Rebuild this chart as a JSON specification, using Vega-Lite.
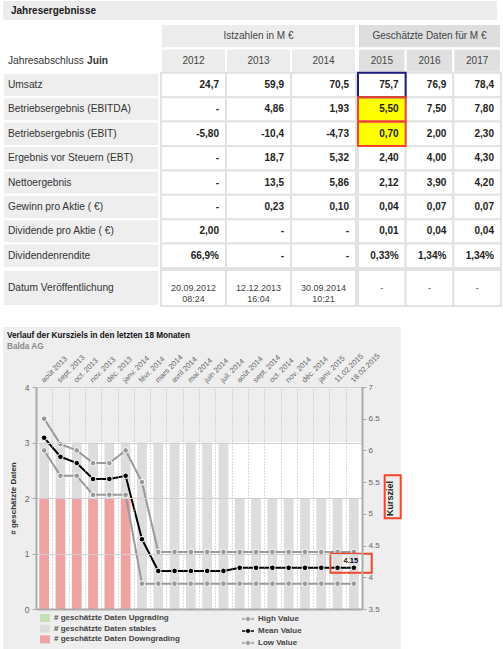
{
  "$schema": "https://vega.github.io/schema/vega-lite/v6.json",
  "padding": {"left": 0, "top": 1, "right": 0, "bottom": 0},
  "background": "#ffffff",
  "config": {"font": "Liberation Sans", "view": {"stroke": null}},
  "datasets": {
    "tab": [
      {"r": "Umsatz", "2012": "24,7", "2013": "59,9", "2014": "70,5", "2015": "75,7", "2016": "76,9", "2017": "78,4"},
      {"r": "Betriebsergebnis (EBITDA)", "2012": "-", "2013": "4,86", "2014": "1,93", "2015": "5,50", "2016": "7,50", "2017": "7,80"},
      {"r": "Betriebsergebnis (EBIT)", "2012": "-5,80", "2013": "-10,4", "2014": "-4,73", "2015": "0,70", "2016": "2,00", "2017": "2,30"},
      {"r": "Ergebnis vor Steuern (EBT)", "2012": "-", "2013": "18,7", "2014": "5,32", "2015": "2,40", "2016": "4,00", "2017": "4,30"},
      {"r": "Nettoergebnis", "2012": "-", "2013": "13,5", "2014": "5,86", "2015": "2,12", "2016": "3,90", "2017": "4,20"},
      {"r": "Gewinn pro Aktie ( €)", "2012": "-", "2013": "0,23", "2014": "0,10", "2015": "0,04", "2016": "0,07", "2017": "0,07"},
      {"r": "Dividende pro Aktie ( €)", "2012": "2,00", "2013": "-", "2014": "-", "2015": "0,01", "2016": "0,04", "2017": "0,04"},
      {"r": "Dividendenrendite", "2012": "66,9%", "2013": "-", "2014": "-", "2015": "0,33%", "2016": "1,34%", "2017": "1,34%"},
      {"r": "Datum Veröffentlichung", "2012": "20.09.2012\n08:24", "2013": "12.12.2013\n16:04", "2014": "30.09.2014\n10:21", "2015": "-", "2016": "-", "2017": "-"}
    ],
    "bars": [
      {"m": "août 2013", "Downgrading": 2, "stables": 1},
      {"m": "sept. 2013", "Downgrading": 2, "stables": 1},
      {"m": "oct. 2013", "Downgrading": 2, "stables": 1},
      {"m": "nov. 2013", "Downgrading": 2, "stables": 1},
      {"m": "déc. 2013", "Downgrading": 2, "stables": 1},
      {"m": "janv. 2014", "Downgrading": 2, "stables": 1},
      {"m": "févr. 2014", "Downgrading": 0, "stables": 3},
      {"m": "mars 2014", "Downgrading": 0, "stables": 3},
      {"m": "avril 2014", "Downgrading": 0, "stables": 3},
      {"m": "mai 2014", "Downgrading": 0, "stables": 3},
      {"m": "juin 2014", "Downgrading": 0, "stables": 3},
      {"m": "juil. 2014", "Downgrading": 0, "stables": 3},
      {"m": "août 2014", "Downgrading": 0, "stables": 2},
      {"m": "sept. 2014", "Downgrading": 0, "stables": 2},
      {"m": "oct. 2014", "Downgrading": 0, "stables": 2},
      {"m": "nov. 2014", "Downgrading": 0, "stables": 2},
      {"m": "déc. 2014", "Downgrading": 0, "stables": 2},
      {"m": "janv. 2015", "Downgrading": 0, "stables": 2},
      {"m": "11.02.2015", "Downgrading": 0, "stables": 2},
      {"m": "18.02.2015", "Downgrading": 0, "stables": 2}
    ],
    "kz": [
      {"m": "août 2013", "High Value": 6.5, "Mean Value": 6.2, "Low Value": 6.0},
      {"m": "sept. 2013", "High Value": 6.1, "Mean Value": 5.9, "Low Value": 5.6},
      {"m": "oct. 2013", "High Value": 6.0, "Mean Value": 5.8, "Low Value": 5.6},
      {"m": "nov. 2013", "High Value": 5.8, "Mean Value": 5.55, "Low Value": 5.3},
      {"m": "déc. 2013", "High Value": 5.8, "Mean Value": 5.55, "Low Value": 5.3},
      {"m": "janv. 2014", "High Value": 6.0, "Mean Value": 5.6, "Low Value": 5.3},
      {"m": "févr. 2014", "High Value": 5.5, "Mean Value": 4.6, "Low Value": 3.9},
      {"m": "mars 2014", "High Value": 4.4, "Mean Value": 4.1, "Low Value": 3.9},
      {"m": "avril 2014", "High Value": 4.4, "Mean Value": 4.1, "Low Value": 3.9},
      {"m": "mai 2014", "High Value": 4.4, "Mean Value": 4.1, "Low Value": 3.9},
      {"m": "juin 2014", "High Value": 4.4, "Mean Value": 4.1, "Low Value": 3.9},
      {"m": "juil. 2014", "High Value": 4.4, "Mean Value": 4.1, "Low Value": 3.9},
      {"m": "août 2014", "High Value": 4.4, "Mean Value": 4.15, "Low Value": 3.9},
      {"m": "sept. 2014", "High Value": 4.4, "Mean Value": 4.15, "Low Value": 3.9},
      {"m": "oct. 2014", "High Value": 4.4, "Mean Value": 4.15, "Low Value": 3.9},
      {"m": "nov. 2014", "High Value": 4.4, "Mean Value": 4.15, "Low Value": 3.9},
      {"m": "déc. 2014", "High Value": 4.4, "Mean Value": 4.15, "Low Value": 3.9},
      {"m": "janv. 2015", "High Value": 4.4, "Mean Value": 4.15, "Low Value": 3.9},
      {"m": "11.02.2015", "High Value": 4.4, "Mean Value": 4.15, "Low Value": 3.9},
      {"m": "18.02.2015", "High Value": 4.4, "Mean Value": 4.15, "Low Value": 3.9}
    ]
  },
  "spacing": 20,
  "vconcat": [
    {
      "spacing": 3,
      "vconcat": [
        {
          "width": 494,
          "height": 19,
          "view": {"fill": "#ececec"},
          "data": {"values": [{"t": "Jahresergebnisse"}]},
          "mark": {"type": "text", "align": "left", "baseline": "middle", "dx": 8, "fontSize": 10, "fontWeight": "bold", "color": "#1a1a1a"},
          "encoding": {
            "x": {"datum": 0, "type": "quantitative", "scale": {"domain": [0, 1]}, "axis": null},
            "text": {"field": "t"}
          }
        },
        {
          "spacing": 0,
          "vconcat": [
            {
              "spacing": 0,
              "hconcat": [
                {
                  "width": 156,
                  "height": 244,
                  "layer": [
                    {
                      "data": {"name": "tab"},
                      "transform": [{"filter": "datum.r != 'Datum Veröffentlichung'"}],
                      "mark": {"type": "rect", "fill": "#eeeeee", "stroke": "#ffffff", "strokeWidth": 2},
                      "encoding": {
                        "y": {"field": "r", "type": "nominal", "scale": {"type": "band", "domain": ["h1", "h2", "Umsatz", "Betriebsergebnis (EBITDA)", "Betriebsergebnis (EBIT)", "Ergebnis vor Steuern (EBT)", "Nettoergebnis", "Gewinn pro Aktie ( €)", "Dividende pro Aktie ( €)", "Dividendenrendite"], "paddingInner": 0, "paddingOuter": 0}, "axis": null}
                      }
                    },
                    {
                      "data": {"name": "tab"},
                      "transform": [{"filter": "datum.r != 'Datum Veröffentlichung'"}],
                      "mark": {"type": "text", "align": "left", "baseline": "middle", "dx": 5, "fontSize": 10.2, "color": "#333333"},
                      "encoding": {
                        "x": {"datum": 0, "type": "quantitative", "scale": {"domain": [0, 1]}, "axis": null},
                        "y": {"field": "r", "type": "nominal", "axis": null},
                        "text": {"field": "r"}
                      }
                    },
                    {
                      "data": {"values": [{"a": "Jahresabschluss", "b": "Juin"}]},
                      "mark": {"type": "text", "align": "left", "baseline": "middle", "dx": 5, "fontSize": 10.2, "color": "#333333"},
                      "encoding": {
                        "x": {"datum": 0, "type": "quantitative", "axis": null},
                        "y": {"datum": "h2", "type": "nominal", "axis": null},
                        "text": {"field": "a"}
                      }
                    },
                    {
                      "data": {"values": [{"a": "Jahresabschluss", "b": "Juin"}]},
                      "mark": {"type": "text", "align": "left", "baseline": "middle", "dx": 84, "fontSize": 10.2, "fontWeight": "bold", "color": "#333333"},
                      "encoding": {
                        "x": {"datum": 0, "type": "quantitative", "axis": null},
                        "y": {"datum": "h2", "type": "nominal", "axis": null},
                        "text": {"field": "b"}
                      }
                    }
                  ]
                },
                {
                  "width": 195,
                  "height": 244,
                  "layer": [
                    {
                      "data": {"values": [{"t": "Istzahlen in M €"}]},
                      "mark": {"type": "rect", "fill": "#ececec", "stroke": "#ffffff", "strokeWidth": 2},
                      "encoding": {
                        "y": {"datum": "h1", "type": "nominal", "scale": {"type": "band", "domain": ["h1", "h2", "Umsatz", "Betriebsergebnis (EBITDA)", "Betriebsergebnis (EBIT)", "Ergebnis vor Steuern (EBT)", "Nettoergebnis", "Gewinn pro Aktie ( €)", "Dividende pro Aktie ( €)", "Dividendenrendite"], "paddingInner": 0, "paddingOuter": 0}, "axis": null}
                      }
                    },
                    {
                      "data": {"values": [{"t": "Istzahlen in M €"}]},
                      "mark": {"type": "text", "baseline": "middle", "fontSize": 10, "color": "#444444"},
                      "encoding": {
                        "y": {"datum": "h1", "type": "nominal", "axis": null},
                        "text": {"field": "t"}
                      }
                    },
                    {
                      "data": {"name": "tab"},
                      "transform": [{"filter": "datum.r == 'Umsatz'"}, {"fold": ["2012", "2013", "2014"], "as": ["yr", "v"]}],
                      "mark": {"type": "rect", "fill": "#ececec", "stroke": "#ffffff", "strokeWidth": 2},
                      "encoding": {
                        "x": {"field": "yr", "type": "nominal", "scale": {"type": "band", "paddingInner": 0, "paddingOuter": 0}, "axis": null},
                        "y": {"datum": "h2", "type": "nominal", "axis": null}
                      }
                    },
                    {
                      "data": {"name": "tab"},
                      "transform": [{"filter": "datum.r == 'Umsatz'"}, {"fold": ["2012", "2013", "2014"], "as": ["yr", "v"]}],
                      "mark": {"type": "text", "baseline": "middle", "fontSize": 10, "color": "#444444"},
                      "encoding": {
                        "x": {"field": "yr", "type": "nominal", "bandPosition": 0.5, "axis": null},
                        "y": {"datum": "h2", "type": "nominal", "axis": null},
                        "text": {"field": "yr"}
                      }
                    },
                    {
                      "data": {"name": "tab"},
                      "transform": [{"filter": "datum.r != 'Datum Veröffentlichung'"}, {"fold": ["2012", "2013", "2014"], "as": ["yr", "v"]}],
                      "mark": {"type": "rect", "fill": "#ffffff", "stroke": "#e2e2e2", "strokeWidth": 2},
                      "encoding": {
                        "x": {"field": "yr", "type": "nominal", "axis": null},
                        "y": {"field": "r", "type": "nominal", "axis": null}
                      }
                    },
                    {
                      "data": {"name": "tab"},
                      "transform": [{"filter": "datum.r != 'Datum Veröffentlichung'"}, {"fold": ["2012", "2013", "2014"], "as": ["yr", "v"]}],
                      "mark": {"type": "text", "align": "right", "baseline": "middle", "dx": -7, "fontSize": 10, "fontWeight": "bold", "color": "#222222"},
                      "encoding": {
                        "x": {"field": "yr", "type": "nominal", "bandPosition": 1, "axis": null},
                        "y": {"field": "r", "type": "nominal", "axis": null},
                        "text": {"field": "v"}
                      }
                    }
                  ]
                },
                {
                  "width": 143,
                  "height": 244,
                  "layer": [
                    {
                      "data": {"values": [{"t": "Geschätzte Daten für M €"}]},
                      "mark": {"type": "rect", "fill": "#dedede", "stroke": "#ffffff", "strokeWidth": 2},
                      "encoding": {
                        "y": {"datum": "h1", "type": "nominal", "scale": {"type": "band", "domain": ["h1", "h2", "Umsatz", "Betriebsergebnis (EBITDA)", "Betriebsergebnis (EBIT)", "Ergebnis vor Steuern (EBT)", "Nettoergebnis", "Gewinn pro Aktie ( €)", "Dividende pro Aktie ( €)", "Dividendenrendite"], "paddingInner": 0, "paddingOuter": 0}, "axis": null}
                      }
                    },
                    {
                      "data": {"values": [{"t": "Geschätzte Daten für M €"}]},
                      "mark": {"type": "text", "baseline": "middle", "fontSize": 10, "color": "#444444"},
                      "encoding": {
                        "y": {"datum": "h1", "type": "nominal", "axis": null},
                        "text": {"field": "t"}
                      }
                    },
                    {
                      "data": {"name": "tab"},
                      "transform": [{"filter": "datum.r == 'Umsatz'"}, {"fold": ["2015", "2016", "2017"], "as": ["yr", "v"]}],
                      "mark": {"type": "rect", "fill": "#e0e0e0", "stroke": "#ffffff", "strokeWidth": 2},
                      "encoding": {
                        "x": {"field": "yr", "type": "nominal", "scale": {"type": "band", "paddingInner": 0, "paddingOuter": 0}, "axis": null},
                        "y": {"datum": "h2", "type": "nominal", "axis": null}
                      }
                    },
                    {
                      "data": {"name": "tab"},
                      "transform": [{"filter": "datum.r == 'Umsatz'"}, {"fold": ["2015", "2016", "2017"], "as": ["yr", "v"]}],
                      "mark": {"type": "text", "baseline": "middle", "fontSize": 10, "color": "#444444"},
                      "encoding": {
                        "x": {"field": "yr", "type": "nominal", "bandPosition": 0.5, "axis": null},
                        "y": {"datum": "h2", "type": "nominal", "axis": null},
                        "text": {"field": "yr"}
                      }
                    },
                    {
                      "data": {"name": "tab"},
                      "transform": [{"filter": "datum.r != 'Datum Veröffentlichung'"}, {"fold": ["2015", "2016", "2017"], "as": ["yr", "v"]}],
                      "mark": {"type": "rect", "stroke": "#e2e2e2", "strokeWidth": 2},
                      "encoding": {
                        "x": {"field": "yr", "type": "nominal", "axis": null},
                        "y": {"field": "r", "type": "nominal", "axis": null},
                        "fill": {"condition": {"test": "datum.yr == '2015' && (datum.r == 'Betriebsergebnis (EBITDA)' || datum.r == 'Betriebsergebnis (EBIT)')", "value": "#ffff00"}, "value": "#ffffff"}
                      }
                    },
                    {
                      "data": {"name": "tab"},
                      "transform": [{"filter": "datum.r == 'Umsatz' || datum.r == 'Betriebsergebnis (EBITDA)' || datum.r == 'Betriebsergebnis (EBIT)'"}, {"fold": ["2015"], "as": ["yr", "v"]}],
                      "mark": {"type": "rect", "fill": "transparent", "strokeWidth": 2},
                      "encoding": {
                        "x": {"field": "yr", "type": "nominal", "axis": null},
                        "y": {"field": "r", "type": "nominal", "axis": null},
                        "stroke": {"condition": {"test": "datum.r == 'Umsatz'", "value": "#1c1c80"}, "value": "#f2462a"}
                      }
                    },
                    {
                      "data": {"name": "tab"},
                      "transform": [{"filter": "datum.r != 'Datum Veröffentlichung'"}, {"fold": ["2015", "2016", "2017"], "as": ["yr", "v"]}],
                      "mark": {"type": "text", "align": "right", "baseline": "middle", "dx": -7, "fontSize": 10, "fontWeight": "bold", "color": "#222222"},
                      "encoding": {
                        "x": {"field": "yr", "type": "nominal", "bandPosition": 1, "axis": null},
                        "y": {"field": "r", "type": "nominal", "axis": null},
                        "text": {"field": "v"}
                      }
                    }
                  ]
                }
              ]
            },
            {
              "spacing": 0,
              "hconcat": [
                {
                  "width": 156,
                  "height": 36,
                  "data": {"name": "tab"},
                  "transform": [{"filter": "datum.r == 'Datum Veröffentlichung'"}],
                  "layer": [
                    {"mark": {"type": "rect", "fill": "#eeeeee", "stroke": "#ffffff", "strokeWidth": 2}, "encoding": {}},
                    {
                      "mark": {"type": "text", "align": "left", "baseline": "middle", "dx": 5, "fontSize": 10.2, "color": "#333333"},
                      "encoding": {
                        "x": {"datum": 0, "type": "quantitative", "scale": {"domain": [0, 1]}, "axis": null},
                        "text": {"field": "r"}
                      }
                    }
                  ]
                },
                {
                  "width": 195,
                  "height": 36,
                  "data": {"name": "tab"},
                  "transform": [{"filter": "datum.r == 'Datum Veröffentlichung'"}, {"fold": ["2012", "2013", "2014"], "as": ["yr", "v"]}],
                  "layer": [
                    {
                      "mark": {"type": "rect", "fill": "#ffffff", "stroke": "#e2e2e2", "strokeWidth": 2},
                      "encoding": {"x": {"field": "yr", "type": "nominal", "scale": {"type": "band", "paddingInner": 0, "paddingOuter": 0}, "axis": null}}
                    },
                    {
                      "mark": {"type": "text", "baseline": "middle", "fontSize": 9, "color": "#444444", "lineBreak": "\n", "lineHeight": 11},
                      "encoding": {
                        "x": {"field": "yr", "type": "nominal", "bandPosition": 0.5, "axis": null},
                        "text": {"field": "v"}
                      }
                    }
                  ]
                },
                {
                  "width": 143,
                  "height": 36,
                  "data": {"name": "tab"},
                  "transform": [{"filter": "datum.r == 'Datum Veröffentlichung'"}, {"fold": ["2015", "2016", "2017"], "as": ["yr", "v"]}],
                  "layer": [
                    {
                      "mark": {"type": "rect", "fill": "#ffffff", "stroke": "#e2e2e2", "strokeWidth": 2},
                      "encoding": {"x": {"field": "yr", "type": "nominal", "scale": {"type": "band", "paddingInner": 0, "paddingOuter": 0}, "axis": null}}
                    },
                    {
                      "mark": {"type": "text", "baseline": "middle", "fontSize": 9, "color": "#444444"},
                      "encoding": {
                        "x": {"field": "yr", "type": "nominal", "bandPosition": 0.5, "axis": null},
                        "text": {"field": "v"}
                      }
                    }
                  ]
                }
              ]
            }
          ]
        }
      ]
    },
    {
      "width": 398,
      "height": 322,
      "view": {"fill": "#eeeeee"},
      "title": {
        "text": "Verlauf der Kursziels in den letzten 18 Monaten",
        "subtitle": "Balda AG",
        "anchor": "start",
        "frame": "group",
        "dx": 4,
        "offset": -24,
        "fontSize": 8.2,
        "fontWeight": "bold",
        "color": "#111111",
        "subtitleFontSize": 8.2,
        "subtitleFontWeight": "bold",
        "subtitleColor": "#888888",
        "subtitlePadding": 3
      },
      "resolve": {"scale": {"x": "independent", "y": "independent"}},
      "layer": [
        {
          "layer": [
            {
              "data": {"name": "kz"},
              "mark": {"type": "rect", "fill": "#ffffff", "stroke": "#ffffff", "strokeWidth": 0.5},
              "encoding": {
                "x": {
                  "field": "m",
                  "type": "nominal",
                  "title": null,
                  "scale": {"type": "band", "domain": ["août 2013", "sept. 2013", "oct. 2013", "nov. 2013", "déc. 2013", "janv. 2014", "févr. 2014", "mars 2014", "avril 2014", "mai 2014", "juin 2014", "juil. 2014", "août 2014", "sept. 2014", "oct. 2014", "nov. 2014", "déc. 2014", "janv. 2015", "11.02.2015", "18.02.2015"], "range": [33, 359], "paddingInner": 0, "paddingOuter": 0},
                  "axis": {
                    "orient": "top",
                    "offset": -60,
                    "title": null,
                    "labelAngle": -45,
                    "labelAlign": "left",
                    "labelBaseline": "middle",
                    "labelFontSize": 7.5,
                    "labelColor": "#666666",
                    "labelPadding": 6,
                    "labelOffset": -2,
                    "labelOverlap": false,
                    "ticks": false,
                    "domain": false,
                    "grid": true,
                    "gridDash": [1, 2],
                    "gridColor": "#bbbbbb",
                    "tickBand": "extent",
                    "zindex": 1
                  }
                },
                "y": {
                  "datum": 0,
                  "type": "quantitative",
                  "title": "# geschätzte Daten",
                  "scale": {"domain": [0, 4], "range": [282, 60], "nice": false},
                  "axis": {
                    "orient": "left",
                    "offset": -33,
                    "values": [0, 1, 2, 3, 4],
                    "format": "d",
                    "title": "# geschätzte Daten",
                    "titleFontSize": 8,
                    "titleFontWeight": "bold",
                    "titleColor": "#333333",
                    "titlePadding": 7,
                    "labelFontSize": 8.5,
                    "labelColor": "#666666",
                    "labelPadding": 3,
                    "tickSize": 4,
                    "tickColor": "#aaaaaa",
                    "domainColor": "#aaaaaa",
                    "domainWidth": 2,
                    "grid": true,
                    "gridColor": "#d0d0d0",
                    "zindex": 1
                  }
                },
                "y2": {"datum": 3}
              }
            },
            {
              "data": {"name": "bars"},
              "transform": [{"fold": ["Downgrading", "stables"], "as": ["s", "n"]}],
              "mark": {"type": "bar", "width": {"band": 0.6}},
              "encoding": {
                "x": {"field": "m", "type": "nominal", "title": null},
                "y": {"field": "n", "type": "quantitative", "stack": "zero", "title": "# geschätzte Daten"},
                "fill": {
                  "field": "s",
                  "type": "nominal",
                  "scale": {"domain": ["Upgrading", "stables", "Downgrading"], "range": ["#c5e0b3", "#dddddd", "#f0a3a3"]},
                  "legend": {
                    "orient": "none",
                    "legendX": 37,
                    "legendY": 612,
                    "title": null,
                    "padding": 0,
                    "labelExpr": "'# geschätzte Daten ' + datum.label",
                    "labelFontSize": 8,
                    "labelFontWeight": "bold",
                    "labelColor": "#444444",
                    "labelOffset": 4,
                    "symbolType": "M-1,-0.8H1V0.8H-1Z",
                    "symbolSize": 100,
                    "symbolStrokeWidth": 0,
                    "rowPadding": 1.7
                  }
                },
                "order": {"field": "s", "type": "ordinal", "sort": "ascending"}
              }
            }
          ]
        },
        {
          "layer": [
            {
              "data": {"name": "kz"},
              "transform": [{"fold": ["High Value", "Mean Value", "Low Value"], "as": ["s", "val"]}],
              "mark": {"type": "line", "strokeWidth": 2},
              "encoding": {
                "x": {
                  "field": "m",
                  "type": "nominal",
                  "title": null,
                  "bandPosition": 0.5,
                  "scale": {"type": "band", "domain": ["août 2013", "sept. 2013", "oct. 2013", "nov. 2013", "déc. 2013", "janv. 2014", "févr. 2014", "mars 2014", "avril 2014", "mai 2014", "juin 2014", "juil. 2014", "août 2014", "sept. 2014", "oct. 2014", "nov. 2014", "déc. 2014", "janv. 2015", "11.02.2015", "18.02.2015"], "range": [33, 359], "paddingInner": 0, "paddingOuter": 0},
                  "axis": {"orient": "bottom", "offset": -40, "title": null, "labels": false, "ticks": false, "grid": false, "domainColor": "#aaaaaa", "domainWidth": 2, "zindex": 1}
                },
                "y": {
                  "field": "val",
                  "type": "quantitative",
                  "title": "Kursziel",
                  "scale": {"domain": [3.5, 7], "range": [282, 60], "nice": false, "zero": false},
                  "axis": {
                    "orient": "right",
                    "offset": -39,
                    "values": [3.5, 4, 4.5, 5, 5.5, 6, 6.5, 7],
                    "format": ".1~f",
                    "title": "Kursziel",
                    "titleAngle": 270,
                    "titleBaseline": "top",
                    "titleFontSize": 9,
                    "titleFontWeight": "bold",
                    "titleColor": "#222222",
                    "titlePadding": 6,
                    "labelFontSize": 8,
                    "labelColor": "#666666",
                    "labelPadding": 2,
                    "tickSize": 4,
                    "tickColor": "#aaaaaa",
                    "domainColor": "#aaaaaa",
                    "domainWidth": 2,
                    "grid": false,
                    "zindex": 1
                  }
                },
                "stroke": {
                  "field": "s",
                  "type": "nominal",
                  "scale": {"domain": ["High Value", "Mean Value", "Low Value"], "range": ["#999999", "#000000", "#999999"]},
                  "legend": {
                    "orient": "none",
                    "legendX": 238,
                    "legendY": 611,
                    "title": null,
                    "padding": 0,
                    "labelFontSize": 8,
                    "labelFontWeight": "bold",
                    "labelColor": "#444444",
                    "labelOffset": 3,
                    "symbolType": "M-1,0H-0.45M0.45,0H1M0.22,0A0.22,0.22 0 1,1 -0.22,0A0.22,0.22 0 1,1 0.22,0",
                    "symbolSize": 144,
                    "symbolStrokeWidth": 1.5,
                    "rowPadding": 0
                  }
                }
              }
            },
            {
              "data": {"name": "kz"},
              "transform": [{"fold": ["High Value", "Mean Value", "Low Value"], "as": ["s", "val"]}],
              "mark": {"type": "point", "filled": true, "size": 32, "opacity": 1, "stroke": "#ffffff", "strokeWidth": 1},
              "encoding": {
                "x": {"field": "m", "type": "nominal", "bandPosition": 0.5, "title": null},
                "y": {"field": "val", "type": "quantitative", "title": "Kursziel"},
                "color": {"field": "s", "type": "nominal", "scale": {"domain": ["High Value", "Mean Value", "Low Value"], "range": ["#999999", "#000000", "#999999"]}, "legend": null}
              }
            },
            {
              "data": {"name": "kz"},
              "transform": [{"filter": "datum.m == '18.02.2015'"}],
              "mark": {"type": "text", "fontSize": 7.5, "fontWeight": "bold", "color": "#000000", "baseline": "bottom", "dx": -3, "dy": -3},
              "encoding": {
                "x": {"field": "m", "type": "nominal", "bandPosition": 0.5, "title": null},
                "y": {"field": "Mean Value", "type": "quantitative", "title": "Kursziel"},
                "text": {"field": "Mean Value", "type": "quantitative", "format": ".2f"}
              }
            },
            {
              "data": {"values": [{}]},
              "mark": {"type": "rect", "fill": "transparent", "stroke": "#f2462a", "strokeWidth": 2, "xOffset": 1, "x2Offset": 26},
              "encoding": {
                "x": {"datum": "11.02.2015", "bandPosition": 0, "title": null},
                "x2": {"datum": "18.02.2015", "bandPosition": 0},
                "y": {"datum": 4.37, "type": "quantitative", "title": "Kursziel"},
                "y2": {"datum": 4.07}
              }
            },
            {
              "data": {"values": [{}]},
              "mark": {"type": "rect", "fill": "transparent", "stroke": "#f2462a", "strokeWidth": 2, "xOffset": 39, "x2Offset": 55},
              "encoding": {
                "x": {"datum": "18.02.2015", "bandPosition": 0, "title": null},
                "x2": {"datum": "18.02.2015", "bandPosition": 0},
                "y": {"datum": 5.61, "type": "quantitative", "title": "Kursziel"},
                "y2": {"datum": 4.93}
              }
            }
          ]
        }
      ]
    }
  ]
}
